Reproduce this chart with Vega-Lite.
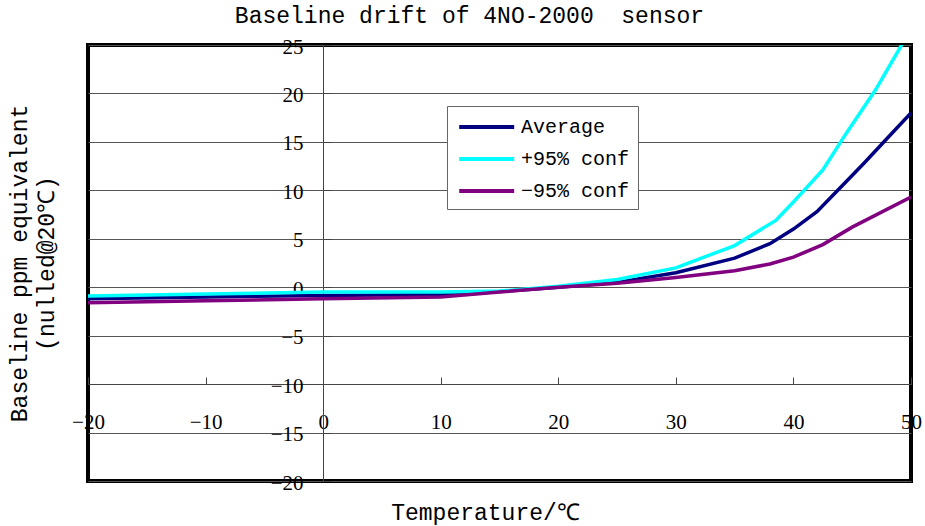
{
  "$schema": "https://vega.github.io/schema/vega-lite/v6.json",
  "width": 823,
  "height": 436,
  "autosize": {"type": "none"},
  "padding": {"left": 88, "top": 45, "right": 14, "bottom": 45},
  "background": "white",
  "title": {
    "text": "Baseline drift of 4NO-2000\u00a0 sensor",
    "font": "Liberation Mono",
    "fontSize": 23,
    "fontWeight": "normal",
    "color": "black",
    "anchor": "middle",
    "dx": -30,
    "offset": 8
  },
  "config": {
    "view": {"stroke": "black", "strokeWidth": 4, "fill": "white"}
  },
  "data": {
    "values": [
      {"t": -20, "v": -1.2, "s": "Average"},
      {"t": -10, "v": -1.0, "s": "Average"},
      {"t": 0, "v": -0.85, "s": "Average"},
      {"t": 10, "v": -0.75, "s": "Average"},
      {"t": 15, "v": -0.45, "s": "Average"},
      {"t": 20, "v": 0, "s": "Average"},
      {"t": 25, "v": 0.5, "s": "Average"},
      {"t": 30, "v": 1.5, "s": "Average"},
      {"t": 35, "v": 3.0, "s": "Average"},
      {"t": 38, "v": 4.5, "s": "Average"},
      {"t": 40, "v": 6.0, "s": "Average"},
      {"t": 42, "v": 7.8, "s": "Average"},
      {"t": 44, "v": 10.3, "s": "Average"},
      {"t": 46, "v": 12.8, "s": "Average"},
      {"t": 48, "v": 15.4, "s": "Average"},
      {"t": 50, "v": 18.0, "s": "Average"},
      {"t": -20, "v": -0.9, "s": "+95% conf"},
      {"t": -10, "v": -0.7, "s": "+95% conf"},
      {"t": 0, "v": -0.5, "s": "+95% conf"},
      {"t": 10, "v": -0.5, "s": "+95% conf"},
      {"t": 15, "v": -0.4, "s": "+95% conf"},
      {"t": 20, "v": 0.1, "s": "+95% conf"},
      {"t": 25, "v": 0.8, "s": "+95% conf"},
      {"t": 30, "v": 2.0, "s": "+95% conf"},
      {"t": 35, "v": 4.3, "s": "+95% conf"},
      {"t": 38.5, "v": 6.9, "s": "+95% conf"},
      {"t": 40, "v": 8.8, "s": "+95% conf"},
      {"t": 42.5, "v": 12.1, "s": "+95% conf"},
      {"t": 44.5, "v": 15.9, "s": "+95% conf"},
      {"t": 47, "v": 20.4, "s": "+95% conf"},
      {"t": 49.2, "v": 25.0, "s": "+95% conf"},
      {"t": 50, "v": 26.4, "s": "+95% conf"},
      {"t": -20, "v": -1.6, "s": "−95% conf"},
      {"t": -10, "v": -1.4, "s": "−95% conf"},
      {"t": 0, "v": -1.2, "s": "−95% conf"},
      {"t": 10, "v": -1.0, "s": "−95% conf"},
      {"t": 15, "v": -0.5, "s": "−95% conf"},
      {"t": 20, "v": 0, "s": "−95% conf"},
      {"t": 25, "v": 0.4, "s": "−95% conf"},
      {"t": 30, "v": 1.0, "s": "−95% conf"},
      {"t": 35, "v": 1.7, "s": "−95% conf"},
      {"t": 38, "v": 2.4, "s": "−95% conf"},
      {"t": 40, "v": 3.1, "s": "−95% conf"},
      {"t": 42.5, "v": 4.4, "s": "−95% conf"},
      {"t": 45, "v": 6.2, "s": "−95% conf"},
      {"t": 50, "v": 9.3, "s": "−95% conf"}
    ]
  },
  "mark": {"type": "line", "strokeWidth": 3.5, "clip": true},
  "encoding": {
    "x": {
      "field": "t",
      "type": "quantitative",
      "scale": {"domain": [-20, 50], "nice": false, "zero": false},
      "axis": {
        "offset": -97,
        "values": [-20, -10, 0, 10, 20, 30, 40, 50],
        "grid": false,
        "tickSize": -7,
        "tickColor": "#444",
        "domainColor": "#444",
        "labelFlush": false,
        "labelFont": "Liberation Serif",
        "labelFontSize": 21,
        "labelColor": "black",
        "labelPadding": 34,
        "title": "Temperature/℃",
        "titleFont": "Liberation Mono",
        "titleFontSize": 23,
        "titleFontWeight": "normal",
        "titleColor": "black",
        "titleX": 397,
        "titleY": 128,
        "titleBaseline": "middle"
      }
    },
    "y": {
      "field": "v",
      "type": "quantitative",
      "scale": {"domain": [-20, 25], "nice": false, "zero": false},
      "axis": {
        "offset": -235,
        "values": [-20, -15, -10, -5, 0, 5, 10, 15, 20, 25],
        "grid": true,
        "gridColor": "#555",
        "gridWidth": 1,
        "tickSize": -8,
        "tickColor": "#444",
        "domainColor": "#444",
        "labelFont": "Liberation Serif",
        "labelFontSize": 21,
        "labelColor": "black",
        "labelPadding": 28,
        "labelOffset": 2,
        "title": ["Baseline ppm equivalent", "(nulled@20℃)"],
        "titleFont": "Liberation Mono",
        "titleFontSize": 23,
        "titleFontWeight": "normal",
        "titleColor": "black",
        "titleAngle": -90,
        "titleBaseline": "middle",
        "titleLineHeight": 27,
        "titleX": -304,
        "titleY": 218
      }
    },
    "color": {
      "field": "s",
      "type": "nominal",
      "scale": {
        "domain": ["Average", "+95% conf", "−95% conf"],
        "range": ["#000080", "#00FFFF", "#800080"]
      },
      "legend": {
        "title": null,
        "orient": "none",
        "legendX": 359,
        "legendY": 61,
        "fillColor": "white",
        "strokeColor": "#666",
        "padding": 8,
        "symbolType": "M-0.8,0H4.2",
        "symbolSize": 484,
        "symbolStrokeWidth": 4,
        "labelFont": "Liberation Mono",
        "labelFontSize": 20,
        "labelColor": "black",
        "labelOffset": 40,
        "rowPadding": 9
      }
    }
  }
}
